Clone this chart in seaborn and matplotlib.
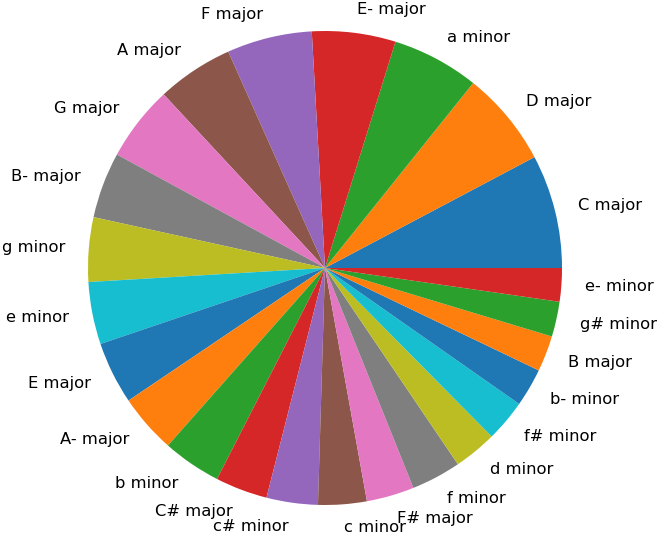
import matplotlib
matplotlib.use("Agg")
import matplotlib.pyplot as plt
import seaborn as sns

keys = ["C major", "D major", "a minor", "E- major", "F major", "A major",
        "G major", "B- major", "g minor", "e minor", "E major", "A- major",
        "b minor", "C# major", "c# minor", "c minor", "F# major", "f minor",
        "d minor", "f# minor", "b- minor", "B major", "g# minor", "e- minor"]
counts = [27.9, 23.4, 21.4, 20.5, 20.9, 18.8, 18.5, 16.2, 15.8, 15.3, 15.3, 14.5,
          14.4, 12.8, 12.6, 11.9, 11.7, 12.2, 10.6, 10.3, 9.4, 8.8, 8.6, 8.2]

palette = sns.color_palette("tab10", 10)
colors = [palette[i % 10] for i in range(len(counts))]

fig = plt.figure(figsize=(6.64, 5.5), dpi=100)
ax = fig.add_axes([88 / 664, 45 / 550, 474 / 664, 474 / 550])
ax.pie(counts, labels=keys, colors=colors, startangle=0, counterclock=True,
       textprops={"fontsize": 11.8})
ax.set_xlim(-1, 1)
ax.set_ylim(-1, 1)
ax.set_aspect("equal")
ax.axis("off")
fig.savefig("out.png", dpi=100)
